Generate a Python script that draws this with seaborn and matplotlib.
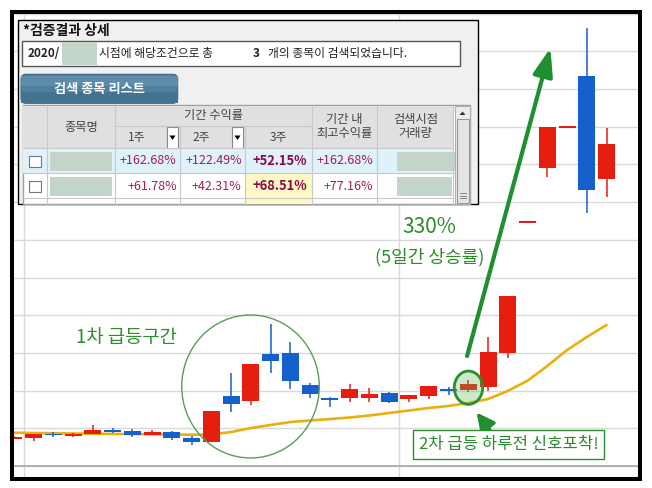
import numpy as np
import pandas as pd
import seaborn as sns
import matplotlib.pyplot as plt
from matplotlib.patches import Rectangle, Ellipse, FancyBboxPatch, Polygon

# daily candles (price units, one grid step = 1000)
days = list(range(31))
opens = [724, 751, 849, 796, 857, 963, 929, 830, 902, 751, 645, 1857, 1732, 2979, 2998, 2149,
         1791, 1812, 1812, 1945, 1785, 1865, 2051, 2016, 2088, 3006, 6473, 7914, 8986, 10347, 7622]
closes = [777, 849, 822, 849, 963, 910, 830, 910, 735, 645, 1467, 1637, 2706, 2794, 2263, 1918,
          1738, 2051, 1910, 1706, 1884, 2122, 1990, 2175, 3032, 4518, 6473, 9002, 8986, 7322, 8543]
highs = [804, 862, 902, 875, 1088, 1008, 974, 963, 929, 804, 1467, 2475, 2706, 3767, 3298, 2210,
         1838, 2175, 2069, 1963, 1884, 2122, 2104, 2282, 3414, 4518, 6473, 9002, 8986, 11612, 8975]
lows = [703, 671, 777, 769, 849, 875, 777, 830, 690, 557, 645, 1441, 1618, 2459, 2043, 1812,
        1557, 1706, 1706, 1679, 1706, 1785, 1884, 1955, 1998, 2857, 6473, 7675, 8986, 6704, 7145]
ma_line = [883, 875, 868, 862, 857, 849, 849, 841, 836, 830, 836, 902, 1008, 1088, 1167, 1207,
           1247, 1287, 1340, 1406, 1472, 1539, 1592, 1671, 1777, 1990, 2263, 2653, 3077, 3422, 3741]

# inset table texts
title_text = "*검증결과 상세"
info_date = "2020/"
info_mid = "시점에 해당조건으로 총"
info_count = "3"
info_tail = "개의 종목이 검색되었습니다."
tab_label = "검색 종목 리스트"
week_labels = ["1주", "2주", "3주"]
row_values = [
    ["+162.68%", "+122.49%", "+52.15%", "+162.68%"],
    ["+61.78%", "+42.31%", "+68.51%", "+77.16%"],
]

RED = "#e61e10"
BLUE = "#1660cc"
GOLD = "#e8b00c"
GREEN = "#2d8c2d"
ARROW_GREEN = "#1f8f2f"
PINK = "#a01e5c"

sns.set_theme(style="white")
plt.rcParams["font.family"] = ["Noto Sans CJK KR", "DejaVu Sans"]

df = pd.DataFrame(dict(day=days, open=opens, high=highs, low=lows, close=closes, ma=ma_line))

W, H = 652, 488
fig = plt.figure(figsize=(W / 100, H / 100), dpi=100)
fig.patch.set_facecolor("white")

ax = fig.add_axes([13 / W, (H - 477) / H, 625 / W, 464 / H])
ax.set_facecolor("white")
ax.set_xlim(-0.04, 31.59)
ax.set_ylim(-292, 12018)
ax.set_yticks(np.arange(0, 12001, 1000))
ax.set_xticks([0.52, 19.5])
ax.grid(True, color="#d9d9d9", lw=1.0)
ax.tick_params(length=0, labelbottom=False, labelleft=False)
for s in ax.spines.values():
    s.set_visible(False)
ax.axhline(0, color="#a8a8a8", lw=1.2, zorder=1)

# moving average
sns.lineplot(data=df, x="day", y="ma", color=GOLD, lw=1.9, ax=ax, zorder=2)
ax.set_xlabel("")
ax.set_ylabel("")

# candles
up = df["close"] >= df["open"]
colors = np.where(up, RED, BLUE)
ax.vlines(df["day"], df["low"], df["high"], colors=colors, lw=1.1, zorder=3)
body = (df["close"] - df["open"]).abs()
body_h = body.clip(lower=45)
body_lo = df[["open", "close"]].min(axis=1) - (body_h - body) / 2
ax.bar(df["day"], body_h, bottom=body_lo, width=0.86, color=colors, lw=0, zorder=4)

# annotations
ax.add_patch(Ellipse((11.98, 2109), 6.96, 3794, fill=False, ec="#55a055", lw=1.0, zorder=6))
ax.text(5.68, 3422, "1차 급등구간", color=GREEN, fontsize=13.5, ha="center", va="center")
ax.add_patch(Ellipse((23.01, 2077), 1.44, 883, fc=(0.35, 0.72, 0.35, 0.3), ec=GREEN, lw=2, zorder=6))
ax.annotate("", xy=(27.16, 11090), xytext=(22.94, 2918),
            arrowprops=dict(arrowstyle="-|>,head_length=1.4,head_width=0.5",
                            color=ARROW_GREEN, lw=3, shrinkA=0, shrinkB=0), zorder=7)
ax.text(21.01, 6341, "330%", color=GREEN, fontsize=15, ha="center", va="center")
ax.text(21.04, 5545, "(5일간 상승률)", color=GREEN, fontsize=13, ha="center", va="center")
ax.annotate("", xy=(23.42, 1419), xytext=(24.1, 955),
            arrowprops=dict(arrowstyle="-|>,head_length=0.9,head_width=0.45",
                            color=ARROW_GREEN, lw=2.5, shrinkA=0, shrinkB=0), zorder=7)
ax.text(25.04, 570, "2차 급등 하루전 신호포착!", color=GREEN, fontsize=12, ha="center", va="center",
        bbox=dict(boxstyle="square,pad=0.35", fc="white", ec=GREEN, lw=1), zorder=8)

# overlay in pixel space for the pasted table and the frame
ov = fig.add_axes([0, 0, 1, 1], zorder=10)
ov.set_xlim(0, W)
ov.set_ylim(H, 0)
ov.axis("off")

ov.add_patch(Rectangle((17.5, 20), 460.5, 184, fc="#f0f0f0", ec="black", lw=1))
ov.text(23, 31, title_text, fontsize=10, weight="bold", va="center", color="#111")

ov.add_patch(Rectangle((21.7, 41), 438.3, 25, fc="white", ec="#555555", lw=1))
ov.text(28, 53.5, info_date, fontsize=8.5, weight="bold", va="center", color="#222")
ov.add_patch(Rectangle((61.7, 42), 35.6, 23, fc="#c3d4c8", lw=0))
ov.text(99, 53.5, info_mid, fontsize=8.5, va="center", color="#222")
ov.text(253, 53.5, info_count, fontsize=8.5, weight="bold", va="center", color="#222")
ov.text(268, 53.5, info_tail, fontsize=8.5, va="center", color="#222")

ov.add_patch(FancyBboxPatch((21, 74.3), 156.7, 29, boxstyle="round,pad=0,rounding_size=5",
                            fc="#4f7f9e", ec="#3d6783", lw=0.8))
ov.add_patch(Rectangle((21, 76), 156.7, 10, fc="#5f8cab", lw=0))
ov.add_patch(Rectangle((21, 92), 156.7, 11.3, fc="#44738f", lw=0))
ov.text(99, 89, tab_label, fontsize=9.5, weight="bold", color="white", ha="center", va="center")

# table body
tx0, tx1, ty0, ty1 = 22.7, 470, 105, 203.5
ov.add_patch(Rectangle((tx0, ty0), tx1 - tx0, ty1 - ty0, fc="white", ec="#a0a0a0", lw=1))
ov.add_patch(Rectangle((tx0, 106), 453.3 - tx0, 42.3, fc="#e0e0e0", lw=0))
ov.add_patch(Rectangle((tx0, 148.3), 453.3 - tx0, 25, fc="#dff1fb", lw=0))
ov.add_patch(Rectangle((245, 173.3), 66.7, ty1 - 173.3, fc="#fff7c4", lw=0))
cols = [47.3, 115, 180, 245, 311.7, 377.3, 453.3]
line_c = "#c8c8c8"
for c in cols:
    top = 126 if c in (180, 245) else 106
    ov.plot([c, c], [top, ty1], color=line_c, lw=0.8)
ov.plot([115, 311.7], [126, 126], color=line_c, lw=0.8)
for yy in (148.3, 173.3, 198.3):
    ov.plot([tx0, 453.3], [yy, yy], color=line_c, lw=0.8)

hc = "#444444"
ov.text(81.2, 128, "종목명", fontsize=8.8, ha="center", va="center", color=hc)
ov.text(213.3, 116, "기간 수익률", fontsize=8.8, ha="center", va="center", color=hc)
ov.text(136.7, 137.7, week_labels[0], fontsize=8.5, ha="center", va="center", color=hc)
ov.text(201.7, 137.7, week_labels[1], fontsize=8.5, ha="center", va="center", color=hc)
ov.text(278.3, 137.7, week_labels[2], fontsize=8.5, ha="center", va="center", color=hc)
ov.text(344.5, 127, "기간 내\n최고수익률", fontsize=8.8, ha="center", va="center", color=hc,
        linespacing=1.1)
ov.text(415.3, 127, "검색시점\n거래량", fontsize=8.8, ha="center", va="center", color=hc,
        linespacing=1.1)
for dx in (166.7, 231.7):
    ov.add_patch(Rectangle((dx, 127), 11.6, 20.5, fc="white", ec="#888888", lw=0.8))
    ov.add_patch(Polygon([(dx + 2.8, 135.5), (dx + 8.8, 135.5), (dx + 5.8, 140)], fc="black", lw=0))

# scrollbar
ov.add_patch(Rectangle((455, 106), 15, ty1 - 106, fc="#ececec", ec="#b0b0b0", lw=0.8))
ov.add_patch(Polygon([(459.5, 115), (465.5, 115), (462.5, 111.5)], fc="#333333", lw=0))
ov.add_patch(Rectangle((456.5, 119), 12, 84, fc="#e4e4e4", ec="#999999", lw=0.8))
for gy in (193, 195.5, 198):
    ov.plot([459.5, 465.5], [gy, gy], color="#777777", lw=0.6)

right_edges = [176.7, 241.7, 307.3, 373.3]
for r, (vals, yc) in enumerate(zip(row_values, (161, 186))):
    ov.add_patch(Rectangle((29.3, yc - 5.5), 11.4, 11, fc="white", ec="#777777", lw=0.8))
    ov.add_patch(Rectangle((49.5, yc - 9), 62, 18.5, fc="#c3d4c8", lw=0))
    ov.add_patch(Rectangle((396.7, yc - 9), 58.3 if r == 0 else 55, 18.5, fc="#c3d4c8", lw=0))
    for j, (v, xr) in enumerate(zip(vals, right_edges)):
        bold = j == 2
        ov.text(xr, yc, v, fontsize=9.3 if bold else 9, ha="right", va="center",
                color="#8c0a4a" if bold else PINK, weight="bold" if bold else "normal")

# black frame
ov.add_patch(Rectangle((11.5, 12), 628.5, 467, fill=False, ec="black", lw=2.9))

fig.savefig("out.png", dpi=100, facecolor="white")
